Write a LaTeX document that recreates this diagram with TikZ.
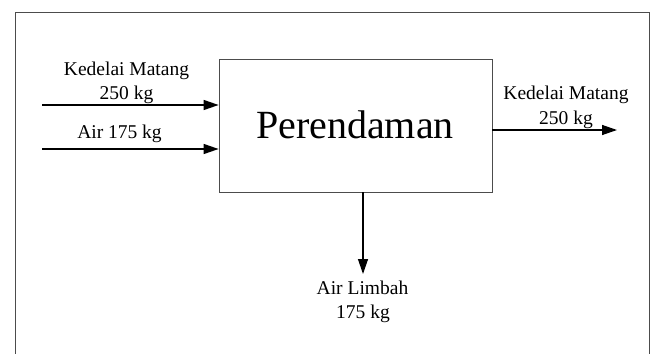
\documentclass[tikz,border=0pt]{standalone}
\usepackage{fontspec}
\setmainfont{Liberation Serif}
\usetikzlibrary{arrows.meta}
\begin{document}
\begin{tikzpicture}[x=1pt,y=-1pt,
  lbl/.style={font=\fontsize{19.5}{21}\selectfont, inner sep=0pt, anchor=base},
  flow/.style={draw=black, line width=1.3pt, -{Triangle[length=15pt,width=10pt]}},
  procbox/.style={draw=black!70, line width=0.8pt, minimum width=273pt, minimum height=133pt, inner sep=0pt}]
\useasboundingbox (0,0) rectangle (652,353);
\fill[white] (0,0) rectangle (652,353);
\draw[black!70, line width=0.8pt] (15,370) -- (15,12) -- (649,12) -- (649,370);
\node[procbox] (box) at (355.5,125.5) {};
\node[font=\fontsize{40}{44}\selectfont, inner sep=0pt, anchor=base] (title) at (355,138) {Perendaman};
\coordinate (in1) at (42,105);
\coordinate (in2) at (42,149);
\coordinate (out1) at (617,130);
\coordinate (out2) at (363,274);
\draw[flow] (in1) -- (in1 -| box.west);
\draw[flow] (in2) -- (in2 -| box.west);
\draw[flow] (out1 -| box.east) -- (out1);
\draw[flow] (out2 |- box.south) -- (out2);
\node[lbl] (l1a) at (126.5,75) {Kedelai Matang};
\node[lbl] (l1b) at (126.5,99) {250 kg};
\node[lbl] (l2) at (119.5,138) {Air 175 kg};
\node[lbl] (r1a) at (566,99) {Kedelai Matang};
\node[lbl] (r1b) at (566,124) {250 kg};
\node[lbl] (b1a) at (362.5,294) {Air Limbah};
\node[lbl] (b1b) at (363,318) {175 kg};
\end{tikzpicture}
\end{document}
